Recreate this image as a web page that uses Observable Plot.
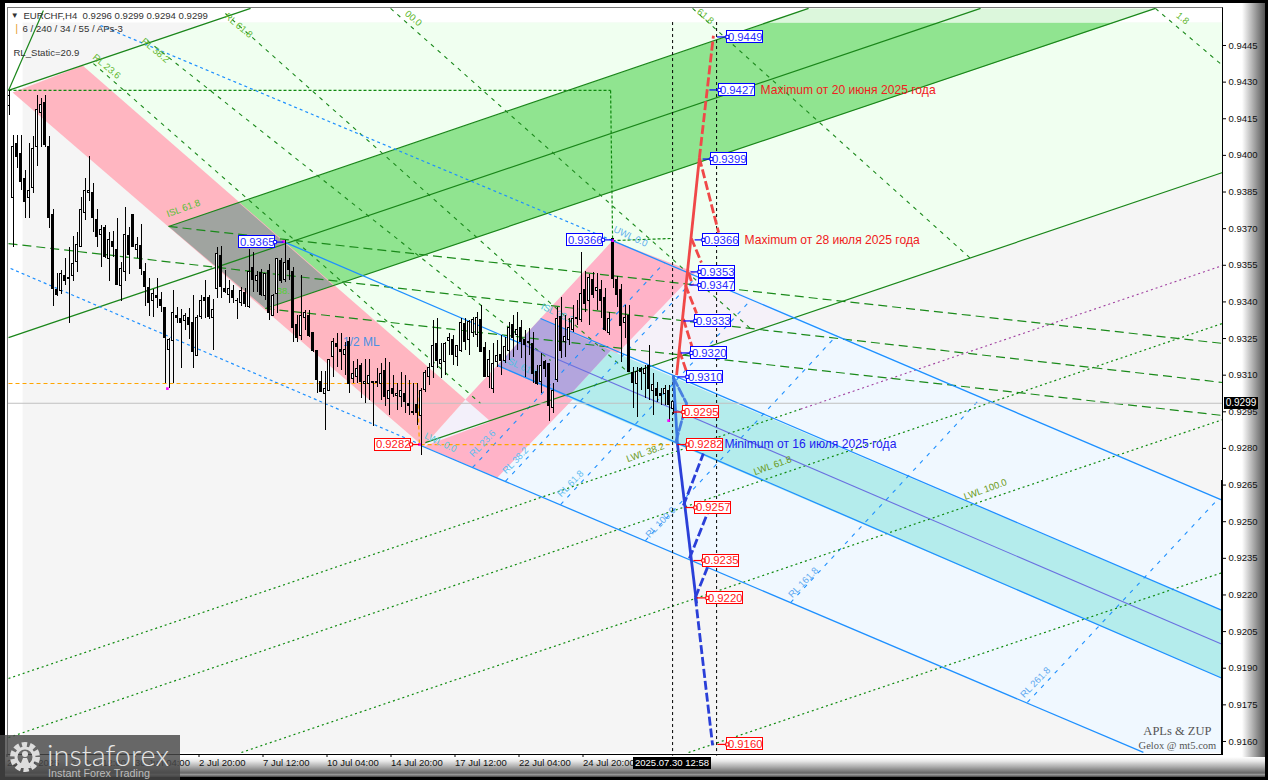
<!DOCTYPE html>
<html><head><meta charset="utf-8">
<script src="https://cdn.jsdelivr.net/npm/d3@7"></script>
<script src="https://cdn.jsdelivr.net/npm/@observablehq/plot@0.6"></script>
<style>
html,body{margin:0;padding:0;background:#000;overflow:hidden}
#wrap{position:relative;width:1268px;height:780px;background:#000;font-family:"Liberation Sans",sans-serif;overflow:hidden}
#wrap>div{position:absolute}
#inner{left:5px;top:3px;width:1260px;height:774px;background:#fff}
#br{left:1242px;top:3px;width:23px;height:774px;background:linear-gradient(to right,#fff,#ccc 30%,#888 70%,#555)}
#bb{left:5px;top:757px;width:1260px;height:20px;background:linear-gradient(to bottom,#fff,#e8e8e8 20%,#aaa 50%,#666 80%,#999 88%,#444)}
#chart{left:0;top:0}
#chart svg{display:block}
#box{left:7px;top:7px;width:1214px;height:746px;border-left:1px solid #777;border-top:1px solid #777;border-right:1px solid #000;border-bottom:1px solid #000}
#thick{left:1221px;top:480px;width:2px;height:274px;background:#000}
#now{left:633px;top:757px;width:78px;height:12px;background:#000;color:#fff;font-size:9.5px;line-height:12px;text-align:center}
#last{left:1224px;top:397px;width:34px;height:12px;background:#000;color:#fff;font-size:10px;line-height:12px;text-align:center}
#logo{left:0;top:735px;width:180px;height:45px;background:rgba(72,72,72,.82);color:#e4e4e4;overflow:hidden}
#logo span{position:absolute;white-space:nowrap}
#logo svg{position:absolute;left:7px;top:3px}
</style></head><body>
<div id="wrap">
<div id="inner"></div><div id="br"></div><div id="bb"></div>
<div id="chart"></div>
<div id="box"></div><div id="thick"></div>
<div id="now">2025.07.30 12:58</div>
<div id="last">0.9299</div>
<div id="logo">
<svg width="36" height="40" viewBox="0 0 36 40"><circle cx="18" cy="19" r="12" fill="none" stroke="#ddd" stroke-width="6" stroke-dasharray="5 2.6"/><circle cx="18" cy="19" r="9" fill="none" stroke="#ddd" stroke-width="3"/><circle cx="18" cy="16" r="3" fill="#ddd"/><path d="M12 30 L16 20 H20 L24 30" fill="#ddd"/></svg>
<span style="left:47px;top:2px;font:300 29px Lato,sans-serif">instaforex</span>
<span style="left:48px;top:32px;font:10.8px 'Liberation Sans',sans-serif;color:#bbb">Instant Forex Trading</span>
</div>
</div>
<script>
// ---- EURCHF H4 candles (bar number = position in the array)
const opens=[0.94204,0.93825,0.94047,0.94006,0.93904,0.93825,0.93866,0.94033,0.94173,0.94215,
0.94036,0.93756,0.93447,0.93444,0.93508,0.93493,0.93505,0.93563,0.93624,0.93763,
0.93845,0.93846,0.93736,0.93674,0.93703,0.93576,0.93647,0.93614,0.93464,0.93522,
0.93668,0.93755,0.93613,0.93627,0.93524,0.93456,0.93403,0.93426,0.93406,0.93375,
0.93204,0.93238,0.93344,0.93328,0.93323,0.93334,0.93314,0.93180,0.93340,0.93416,
0.93416,0.93333,0.93453,0.93586,0.93453,0.93430,0.93446,0.93403,0.93396,0.93435,
0.93378,0.93538,0.93485,0.93517,0.93423,0.93525,0.93344,0.93433,0.93566,0.93490,
0.93566,0.93524,0.93306,0.93262,0.93333,0.93344,0.93273,0.93198,0.93074,0.93023,
0.93034,0.93173,0.93226,0.93205,0.93183,0.93235,0.93084,0.93092,0.93136,0.93065,
0.93065,0.93072,0.93070,0.93065,0.93117,0.93001,0.93044,0.93013,0.93010,0.93024,
0.92983,0.92951,0.92976,0.92931,0.93040,0.93092,0.93133,0.93229,0.93147,0.93153,
0.93238,0.93245,0.93174,0.93201,0.93310,0.93245,0.93272,0.93265,0.93327,0.93211,
0.93092,0.93044,0.93153,0.93184,0.93160,0.93201,0.93306,0.93263,0.93293,0.93246,
0.93232,0.93226,0.93115,0.93071,0.93153,0.93146,0.92965,0.93082,0.93338,0.93235,
0.93242,0.93283,0.93331,0.93324,0.93447,0.93402,0.93490,0.93444,0.93447,0.93417,
0.93273,0.93656,0.93488,0.93447,0.93313,0.93344,0.93108,0.93065,0.93126,0.93106,
0.93137,0.93035,0.93044,0.93024,0.93024,0.93037,0.92960];
const highs=[0.94266,0.94081,0.94081,0.94081,0.93938,0.94047,0.94079,0.94245,0.94234,0.94245,
0.94079,0.93778,0.93515,0.93528,0.93576,0.93624,0.93668,0.93685,0.93829,0.93904,
0.93995,0.93883,0.93778,0.93713,0.93713,0.93685,0.93689,0.93743,0.93563,0.93785,
0.93706,0.93758,0.93665,0.93715,0.93556,0.93494,0.93451,0.93494,0.93440,0.93378,
0.93249,0.93446,0.93378,0.93368,0.93353,0.93371,0.93426,0.93344,0.93426,0.93487,
0.93426,0.93408,0.93624,0.93626,0.93528,0.93487,0.93467,0.93412,0.93460,0.93453,
0.93613,0.93603,0.93525,0.93531,0.93517,0.93553,0.93429,0.93576,0.93576,0.93651,
0.93576,0.93542,0.93344,0.93508,0.93364,0.93364,0.93276,0.93198,0.93116,0.93115,
0.93166,0.93252,0.93270,0.93270,0.93235,0.93253,0.93156,0.93163,0.93147,0.93163,
0.93163,0.93072,0.93126,0.93147,0.93167,0.93153,0.93099,0.93065,0.93113,0.93099,
0.93078,0.93065,0.93065,0.93044,0.93119,0.93147,0.93324,0.93331,0.93229,0.93235,
0.93270,0.93263,0.93222,0.93331,0.93331,0.93324,0.93338,0.93358,0.93386,0.93235,
0.93201,0.93229,0.93242,0.93263,0.93256,0.93314,0.93344,0.93355,0.93324,0.93283,
0.93290,0.93276,0.93140,0.93187,0.93160,0.93146,0.93065,0.93379,0.93419,0.93344,
0.93331,0.93385,0.93406,0.93604,0.93525,0.93511,0.93519,0.93515,0.93488,0.93454,
0.93358,0.93656,0.93505,0.93470,0.93385,0.93385,0.93133,0.93133,0.93133,0.93140,
0.93222,0.93106,0.93071,0.93044,0.93058,0.93058,0.92990];
const lows=[0.94163,0.93624,0.93945,0.93856,0.93743,0.93743,0.93842,0.93956,0.94033,0.94033,
0.93702,0.93382,0.93423,0.93429,0.93467,0.93313,0.93485,0.93522,0.93621,0.93733,
0.93811,0.93685,0.93624,0.93542,0.93576,0.93485,0.93583,0.93467,0.93403,0.93483,
0.93512,0.93621,0.93576,0.93508,0.93382,0.93341,0.93335,0.93374,0.93358,0.93067,
0.93044,0.93064,0.93310,0.93126,0.93283,0.93248,0.93126,0.93176,0.93330,0.93334,
0.93330,0.93201,0.93412,0.93412,0.93433,0.93394,0.93394,0.93330,0.93381,0.93378,
0.93374,0.93439,0.93439,0.93423,0.93405,0.93323,0.93340,0.93353,0.93474,0.93480,
0.93487,0.93235,0.93235,0.93244,0.93283,0.93255,0.93194,0.93023,0.93030,0.92873,
0.93033,0.93091,0.93133,0.93119,0.93099,0.93024,0.93065,0.93065,0.93003,0.92983,
0.92997,0.92890,0.93051,0.92997,0.92972,0.92935,0.93010,0.92956,0.92969,0.92942,
0.92935,0.92935,0.92894,0.92771,0.93031,0.93058,0.93085,0.93126,0.93085,0.93099,
0.93181,0.93140,0.93136,0.93194,0.93201,0.93181,0.93256,0.93215,0.93194,0.93089,
0.93044,0.93024,0.93133,0.93099,0.93146,0.93160,0.93174,0.93201,0.93167,0.93092,
0.93181,0.93065,0.93058,0.93024,0.93092,0.92910,0.92942,0.93069,0.93167,0.93174,
0.93222,0.93276,0.93303,0.93317,0.93358,0.93303,0.93413,0.93365,0.93331,0.93280,
0.93263,0.93454,0.93379,0.93153,0.93249,0.93110,0.92962,0.92925,0.93037,0.93003,
0.92996,0.92935,0.92990,0.92976,0.92976,0.92908,0.92940];
const closes=[0.94245,0.94036,0.93993,0.93893,0.93811,0.93855,0.94027,0.94186,0.94208,0.94043,
0.93743,0.93451,0.93430,0.93515,0.93485,0.93497,0.93556,0.93634,0.93778,0.93855,
0.93855,0.93743,0.93665,0.93695,0.93583,0.93654,0.93624,0.93471,0.93535,0.93674,
0.93594,0.93624,0.93634,0.93533,0.93463,0.93395,0.93433,0.93415,0.93382,0.93253,
0.93245,0.93355,0.93333,0.93313,0.93344,0.93306,0.93194,0.93334,0.93405,0.93403,
0.93340,0.93367,0.93596,0.93463,0.93442,0.93453,0.93415,0.93405,0.93446,0.93392,
0.93524,0.93490,0.93508,0.93430,0.93515,0.93353,0.93426,0.93576,0.93485,0.93558,
0.93531,0.93292,0.93252,0.93344,0.93355,0.93262,0.93201,0.93082,0.93033,0.93044,
0.93162,0.93235,0.93215,0.93194,0.93204,0.93065,0.93106,0.93126,0.93072,0.93073,
0.93095,0.93067,0.93073,0.93103,0.93010,0.93037,0.93021,0.93024,0.93037,0.92992,
0.92973,0.92947,0.92945,0.93037,0.93108,0.93129,0.93218,0.93156,0.93163,0.93226,
0.93253,0.93181,0.93218,0.93315,0.93235,0.93317,0.93327,0.93335,0.93194,0.93092,
0.93163,0.93147,0.93177,0.93156,0.93217,0.93293,0.93253,0.93287,0.93235,0.93222,
0.93237,0.93106,0.93062,0.93136,0.93126,0.92973,0.93037,0.93328,0.93201,0.93256,
0.93293,0.93328,0.93335,0.93433,0.93392,0.93497,0.93430,0.93456,0.93403,0.93283,
0.93328,0.93495,0.93429,0.93303,0.93335,0.93112,0.93067,0.93115,0.93112,0.93126,
0.93044,0.93058,0.93013,0.93013,0.93044,0.92976,0.92990];

// ---- axes
const yTicks=[0.9445,0.9430,0.9415,0.9400,0.9385,0.9370,0.9355,0.9340,0.9325,0.9310,0.9295,0.9280,0.9265,0.9250,0.9235,0.9220,0.9205,0.9190,0.9175,0.9160];
const xTickBars=[0,16,32,48,64,80,96,112,128,144];
const xTickNames=["25 Jun 2025","27 Jun 12:00","30 Jun 04:00","2 Jul 20:00","7 Jul 12:00","10 Jul 04:00","14 Jul 20:00","17 Jul 12:00","22 Jul 04:00","24 Jul 20:00"];

// ---- filled zones: [bars],[prices]
const plotBars=[3.4,303.375,303.375,3.4], plotPrices=[0.94544,0.94544,0.91555,0.91555];
const upperBars=[18.4,49.9,303.4,303.4,120.4,114.1], upperPrices=[0.94368,0.94544,0.94544,0.93930,0.92910,0.93000];
const lowerBars=[171.6,303.4,303.4,283.6,122.1], lowerPrices=[0.93520,0.92587,0.91555,0.91555,0.92681];
const overlapBars=[171.6,196.1,160.4,150.4], overlapPrices=[0.93520,0.93336,0.93136,0.93201];
const diamondBars=[114.1,120.4,103.6], diamondPrices=[0.93000,0.92910,0.92808];
const greenBandBars=[39.9,189.9,276.4,64.1], greenBandPrices=[0.93709,0.94544,0.94544,0.93373];
const greenFadeBars=[189.9,199.9,286.6,276.4], greenFadePrices=[0.94544,0.94602,0.94602,0.94544];
const pinkOneBars=[0.9,18.4,114.1,103.6], pinkOnePrices=[0.94258,0.94368,0.93000,0.92808];
const pinkTwoBars=[150.9,171.6,122.1,103.6,120.4,114.1], pinkTwoPrices=[0.93651,0.93520,0.92681,0.92808,0.92910,0.93000];
const grayBars=[39.9,57.4,81.1,64.1], grayPrices=[0.93709,0.93807,0.93467,0.93373];
const tealBars=[150.4,303.4,303.4,139.6], tealPrices=[0.93201,0.92136,0.91858,0.93009];
const purpleBars=[132.9,150.4,139.6,122.1], purplePrices=[0.93332,0.93201,0.93009,0.93140];

// ---- lines: [bar, price, bar, price]
const greenSolid=[[-0.125,0.94266,60.4,0.94602],[-0.125,0.94266,8.6,0.94593],[39.9,0.93709,199.9,0.94602],[-0.125,0.93254,242.9,0.94602],[64.1,0.93373,286.6,0.94602],[104.1,0.92824,303.4,0.93930]];
const blueSolid=[[150.9,0.93651,303.4,0.92587],[68.6,0.93647,127.9,0.93230],[132.9,0.93332,303.4,0.92136],[122.1,0.93140,303.4,0.91858],[102.9,0.92812,283.6,0.91555]];
const medianInner=[[127.9,0.93230,303.4,0.91997]];
const blueDashed=[[22.9,0.94532,150.9,0.93651],[0.4,0.93537,102.9,0.92816]];
const greenLong=[[39.9,0.93709,303.4,0.93230],[-0.125,0.93639,303.4,0.93070],[64.1,0.93373,303.4,0.92935]];
const greenDotted=[[-0.125,0.91858,197.9,0.92961],[-0.125,0.91616,303.4,0.93312],[58.1,0.91555,303.4,0.92918],[169.9,0.91555,303.4,0.92292]];
const purpleDotted=[[197.9,0.92961,303.4,0.93549]];
const greenFan=[[21.1,0.94376,117.9,0.92984],[34.6,0.94470,135.4,0.93160],[54.1,0.94581,155.1,0.93107],[95.4,0.94602,185.9,0.93283],[170.9,0.94602,240.4,0.93578],[286.6,0.94602,303.4,0.94368]];
const blueFan=[[115.9,0.92722,163.9,0.93561],[124.1,0.92665,171.9,0.93504],[137.9,0.92570,185.6,0.93410],[159.1,0.92423,206.9,0.93262],[195.4,0.92169,243.1,0.93009],[254.6,0.91760,302.4,0.92595]];
const greenGuide=[[-0.125,0.94266,150.4,0.94266],[150.4,0.94266,150.9,0.93651],[150.9,0.93651,165.9,0.93660]];
const orangeGuide=[[-0.125,0.93066,102.1,0.93066],[102.1,0.93066,102.6,0.92816],[102.9,0.92816,165.9,0.92816]];
const lastPrice=0.92985;
const sessionBars=[165.9,176.9];

// ---- forecast paths
const redSolid=[[166.9,0.9310,172.6,0.9399]];
const redDashed=[[172.6,0.9399,176.1,0.9449],[172.6,0.9399,177.4,0.93684],[170.6,0.9366,173.1,0.93561],[169.9,0.93520,170.9,0.93469],[169.1,0.93469,171.9,0.93353],[168.6,0.9333,170.9,0.93209],[167.6,0.9320,169.9,0.93090]];
const blueLight=[[166.1,0.9310,167.1,0.9282]];
const blueFall=[[167.1,0.9282,171.9,0.92165]];
const blueDashes=[[171.6,0.92190,175.9,0.91584],[168.6,0.92566,173.6,0.92779],[170.1,0.92349,174.6,0.92534],[171.6,0.92190,174.6,0.92312]];
const blueLens=[[166.1,0.9309],[169.4,0.92984],[166.6,0.9282]];

// ---- pivot dots
const pivotBars=[39.6,68.6,102.6,150.9,164.9], pivotPrices=[0.93045,0.93647,0.92816,0.93651,0.92914];

// ---- price tags
const tagText=["0.9449","0.9427","0.9399","0.9366","0.9353","0.9347","0.9333","0.9320","0.9310","0.9295","0.9282","0.9257","0.9235","0.9220","0.9160","0.9365","0.9366","0.9282"];
const tagLeft=[179.6,177.6,175.6,173.6,172.6,172.6,171.6,170.6,169.6,168.6,169.6,171.6,173.6,174.6,179.6,57.6,139.6,91.6];
const tagPrice=[0.94485,0.94268,0.93985,0.93654,0.93523,0.93469,0.93322,0.93191,0.93093,0.92949,0.92816,0.92558,0.92341,0.92188,0.91588,0.93645,0.93654,0.92816];
const tagFrom=[177,175.1,173.4,171.4,170.4,170.1,168.6,167.9,167.1,166.1,167.1,169.1,171.1,171.9,177.1,68.6,150.9,102.6];
const tagBlue=[1,1,1,1,1,1,1,1,1,0,0,0,0,0,0,1,1,0];

// ---- notes
const noteText=["Maximum от 20 июня 2025 года","Maximum от 28 июля 2025 года","Minimum от 16 июля 2025 года"];
const noteBars=[187.9,183.9,178.9], notePrices=[0.94268,0.93654,0.92816], noteColors=["#f02020","#f02020","#2020f0"];

// ---- line captions: text, bar, price, rotation, colour
const captions=[
["RL 23.6",24.4,0.94364,40,"#62b832"],["RL 38.2",36.6,0.94430,40,"#62b832"],["RL 61.8",57.4,0.94532,40,"#62b832"],
["00.0",101.1,0.94561,40,"#62b832"],["61.8",174.1,0.94569,40,"#62b832"],["1.8",293.4,0.94561,40,"#62b832"],
["ISL 61.8",43.6,0.93783,-20,"#55c033"],["38.",68.6,0.93443,0,"#55d033"],
["UWL 0.0",155.4,0.93668,25,"#60b0ee"],["LWL 0.0",107.9,0.92824,25,"#55c8dd"],
["RL 23.6",118.4,0.92820,-46,"#60bcf0"],["RL 38.2",126.6,0.92751,-46,"#60bcf0"],["RL 61.8",140.4,0.92656,-46,"#60bcf0"],
["RL 100.0",162.9,0.92497,-46,"#60a8f0"],["RL 161.8",198.6,0.92251,-46,"#60a8f0"],["RL 261.8",256.6,0.91842,-46,"#60a8f0"],
["LSL 61.8",127.9,0.93136,25,"#50c0e0"],["ISL 38.2",137.1,0.93353,25,"#50c0e0"],
["LWL 38.2",159.1,0.92783,-20,"#6a9a20"],["LWL 61.8",190.9,0.92730,-20,"#6a9a20"],["LWL 100.0",244.1,0.92632,-20,"#6a9a20"]];

// ---- header and signature
const headerText=["EURCHF,H4  0.9296 0.9299 0.9294 0.9299","6 / 240 / 34 / 55 / APs-3","RL_Static=20.9"];
const headerBars=[3.6,3.4,1.1], headerPrices=[0.94573,0.94518,0.94421];

const candles=opens.map((o,i)=>({i,o,h:highs[i],l:lows[i],c:closes[i]}));
const up=candles.filter(d=>d.c>=d.o), down=candles.filter(d=>d.c<d.o);
const poly=(xs,ps,fill)=>Plot.line(xs.map((x,k)=>({x,y:ps[k]})),{x:"x",y:"y",fill,stroke:"none"});
const links=(rows,o)=>Plot.link(rows,{x1:d=>d[0],y1:d=>d[1],x2:d=>d[2],y2:d=>d[3],...o});
const tags=tagText.map((t,k)=>({t,l:tagLeft[k],p:tagPrice[k],f:tagFrom[k],col:tagBlue[k]?"#0000ff":"#ff0000",txt:tagBlue[k]?"#2a2aff":"#ff1a1a"}));
const tagMarks=col=>{const d=tags.filter(t=>t.col===col),boxW=8.9,boxH=0.000245;return [
  Plot.link(d,{x1:"f",x2:t=>t.f<t.l?t.l:t.l+boxW,y1:"p",y2:"p",stroke:col,strokeWidth:1.2}),
  Plot.rect(d,{x1:"l",x2:t=>t.l+boxW,y1:t=>t.p-boxH,y2:t=>t.p+boxH,fill:"#fff",stroke:col,strokeWidth:1,shapeRendering:"crispEdges"}),
  Plot.dot(d,{x:t=>t.f<t.l?t.l:t.l+boxW,y:"p",symbol:"square",r:1.8,fill:"#fff",stroke:col,strokeWidth:1}),
  Plot.text(d,{x:t=>t.l+boxW/2,y:"p",text:"t",fill:d[0].txt,fontSize:11.3})];};

const chart=Plot.plot({
  width:1268,height:780,marginLeft:8,marginRight:46,marginTop:8,marginBottom:26,
  x:{type:"linear",domain:[-0.125,303.375],axis:null},
  y:{type:"linear",domain:[0.915467,0.946015],axis:null},
  style:{background:"transparent",fontFamily:"'Liberation Sans',sans-serif",overflow:"visible"},
  marks:[
    poly(plotBars,plotPrices,"#f5f5f5"),
    poly(upperBars,upperPrices,"#f0fff0"),
    poly(lowerBars,lowerPrices,"#f0f8ff"),
    poly(overlapBars,overlapPrices,"#f5f1f9"),
    poly(diamondBars,diamondPrices,"#f3f0fa"),
    poly(greenBandBars,greenBandPrices,"#90e490"),
    poly(greenFadeBars,greenFadePrices,"#dcf7dc"),
    poly(pinkOneBars,pinkOnePrices,"#ffb6c1"),
    poly(pinkTwoBars,pinkTwoPrices,"#ffb3c8"),
    poly(grayBars,grayPrices,"#a0a4a0"),
    poly(tealBars,tealPrices,"#b4ecec"),
    poly(purpleBars,purplePrices,"#b3a5dd"),
    links(greenFan,{stroke:"#1c8a1c",strokeWidth:1.1,strokeDasharray:"4 5"}),
    links(blueFan,{stroke:"#1e90ff",strokeWidth:1.1,strokeDasharray:"4 6"}),
    links(greenDotted,{stroke:"#0e8a0e",strokeWidth:1.2,strokeDasharray:"2 3"}),
    links(purpleDotted,{stroke:"#a040a0",strokeWidth:1.1,strokeDasharray:"2 3"}),
    links(greenLong,{stroke:"#1a8a1a",strokeWidth:1.2,strokeDasharray:"9 5"}),
    links(greenGuide,{stroke:"#0e880e",strokeWidth:1.2,strokeDasharray:"3 2"}),
    links(greenSolid,{stroke:"#1a861a",strokeWidth:1.2}),
    links(blueSolid,{stroke:"#1e90ff",strokeWidth:1.3}),
    links(medianInner,{stroke:"#6a70e0",strokeWidth:1.1}),
    links(blueDashed,{stroke:"#1e90ff",strokeWidth:1.2,strokeDasharray:"3 3"}),
    links(orangeGuide,{stroke:"#ffa500",strokeWidth:1.2,strokeDasharray:"4 3"}),
    Plot.ruleY([lastPrice],{stroke:"#c0c0c0",strokeWidth:1}),
    Plot.text(captions,{x:d=>d[1],y:d=>d[2],text:d=>d[0],rotate:d=>d[3],fill:d=>d[4],fontSize:9.5}),
    Plot.text(["1/2 ML"],{x:[88.1],y:[0.93234],fill:"#4a90e2",fontSize:12}),
    Plot.ruleX(sessionBars,{stroke:"#000",strokeWidth:1,strokeDasharray:"3 3",y1:0.94544,y2:0.91540}),
    Plot.ruleX(candles,{x:"i",y1:"l",y2:"h",stroke:"#000",strokeWidth:1,shapeRendering:"crispEdges"}),
    Plot.rect(up,{x1:d=>d.i-0.25,x2:d=>d.i+0.25,y1:"o",y2:"c",fill:"#fff",stroke:"#000",strokeWidth:1,shapeRendering:"crispEdges"}),
    Plot.rect(down,{x1:d=>d.i-0.25,x2:d=>d.i+0.25,y1:"o",y2:"c",fill:"#000",stroke:"#000",strokeWidth:1,shapeRendering:"crispEdges"}),
    Plot.dot(pivotBars,{x:d=>d,y:(d,k)=>pivotPrices[k],symbol:"square",r:1.5,fill:"#ff00ff"}),
    links(redDashed,{stroke:"#f04848",strokeWidth:2.8,strokeDasharray:"9 3"}),
    links(redSolid,{stroke:"#f04848",strokeWidth:2.8}),
    Plot.line(blueLens,{x:d=>d[0],y:d=>d[1],stroke:"#4a80e0",strokeWidth:2.8,strokeDasharray:"9 3"}),
    links(blueDashes,{stroke:"#2a3fd8",strokeWidth:2.8,strokeDasharray:"9 3"}),
    links(blueLight,{stroke:"#3a78e0",strokeWidth:2.8}),
    links(blueFall,{stroke:"#2a3fd8",strokeWidth:2.8}),
    ...tagMarks("#0000ff"),...tagMarks("#ff0000"),
    Plot.text(noteText,{x:(d,k)=>noteBars[k],y:(d,k)=>notePrices[k],text:d=>d,textAnchor:"start",fill:(d,k)=>noteColors[k],fontSize:12.1}),
    Plot.text(headerText,{x:(d,k)=>headerBars[k],y:(d,k)=>headerPrices[k],text:d=>d,textAnchor:"start",fill:"#333",fontSize:9.6}),
    Plot.text(["▼"],{x:[1.4],y:[0.94573],fill:"#333",fontSize:8}),
    Plot.text(["|"],{x:[1.9],y:[0.94518],fill:"#e8a030",fontSize:11}),
    Plot.text(["APLs & ZUP"],{x:[292.1],y:[0.91641],fill:"#555",fontSize:12.5,fontFamily:"'Liberation Serif',serif"}),
    Plot.text(["Gelox @ mt5.com"],{x:[292.1],y:[0.91584],fill:"#555",fontSize:10.5,fontFamily:"'Liberation Serif',serif"}),
    Plot.axisY(yTicks,{anchor:"right",tickSize:3,tickPadding:3,tickFormat:d=>d.toFixed(4),label:null,fontSize:9.5,fill:"#111"}),
    Plot.axisX(xTickBars,{anchor:"bottom",tickSize:3,tickPadding:2,dx:-2,tickFormat:d=>xTickNames[xTickBars.indexOf(d)],textAnchor:"start",label:null,fontSize:9.5,fill:"#111"})
  ]
});
document.getElementById("chart").appendChild(chart);
</script>
</body></html>
